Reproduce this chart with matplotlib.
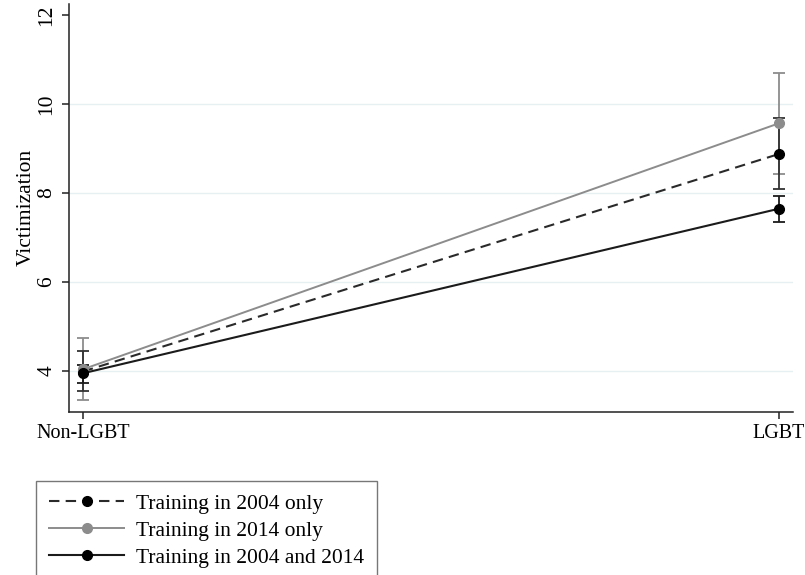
from matplotlib import pyplot as plt

groups = ['Non-LGBT', 'LGBT']
series_labels = ['Training in 2004 only', 'Training in 2014 only', 'Training in 2004 and 2014']

only_2004 = [3.98, 8.87]
only_2004_lo = [3.55, 8.09]
only_2004_hi = [4.45, 9.67]

only_2014 = [4.03, 9.56]
only_2014_lo = [3.34, 8.43]
only_2014_hi = [4.74, 10.70]

both_years = [3.94, 7.64]
both_years_lo = [3.73, 7.34]
both_years_hi = [4.13, 7.93]

plt.rcParams['font.family'] = ['Liberation Serif', 'DejaVu Serif']
plt.rcParams['font.size'] = 15.5

x = list(range(len(groups)))


def err(vals, lo, hi):
    return [[v - l for v, l in zip(vals, lo)], [h - v for v, h in zip(vals, hi)]]


fig = plt.figure(figsize=(8.05, 5.75), dpi=100)
ax = fig.add_axes([0.0857, 0.2835, 0.899, 0.71])

grid_color = '#e6f0f2'
for y in [4, 6, 8, 10]:
    ax.axhline(y, color=grid_color, linewidth=1, zorder=0)

gray = '#8c8c8c'
dark = '#1b1b1b'

ax.errorbar(x, only_2014, yerr=err(only_2014, only_2014_lo, only_2014_hi), fmt='none',
            ecolor=gray, elinewidth=1.3, capsize=4.5, capthick=1.3, zorder=2)
ax.errorbar(x, only_2004, yerr=err(only_2004, only_2004_lo, only_2004_hi), fmt='none',
            ecolor='#333333', elinewidth=1.3, capsize=4.5, capthick=1.3, zorder=3)
ax.errorbar(x, both_years, yerr=err(both_years, both_years_lo, both_years_hi), fmt='none',
            ecolor=dark, elinewidth=1.3, capsize=4.5, capthick=1.3, zorder=3)

h1, = ax.plot(x, only_2004, color='#2a2a2a', linestyle=(0, (5, 3)), linewidth=1.5,
              marker='o', markersize=7, markerfacecolor='black', markeredgecolor='black', zorder=4)
h2, = ax.plot(x, only_2014, color=gray, linewidth=1.4,
              marker='o', markersize=7, markerfacecolor=gray, markeredgecolor=gray, zorder=4)
h3, = ax.plot(x, both_years, color=dark, linewidth=1.5,
              marker='o', markersize=7, markerfacecolor='black', markeredgecolor='black', zorder=5)

ax.set_xlim(-0.02, 1.02)
ax.set_ylim(3.07, 12.25)
ax.set_xticks(x)
ax.set_xticklabels(groups, fontsize=14.5)
ax.set_yticks([4, 6, 8, 10, 12])
ax.set_yticklabels(['4', '6', '8', '10', '12'], rotation=90, va='center')
ax.set_ylabel('Victimization', labelpad=1)

for side in ['top', 'right']:
    ax.spines[side].set_visible(False)
for side in ['left', 'bottom']:
    ax.spines[side].set_color('#222222')
    ax.spines[side].set_linewidth(1.1)
ax.tick_params(direction='out', length=5, width=1.1, color='#222222', pad=4)

leg = fig.legend([h1, h2, h3], series_labels, loc='upper left',
                 bbox_to_anchor=(36 / 805, 1 - 481 / 575), borderaxespad=0,
                 frameon=True, fancybox=False, handlelength=3.5, handletextpad=0.55,
                 borderpad=0.6, labelspacing=0.32, fontsize=15.5)
leg.get_frame().set_edgecolor('#555555')
leg.get_frame().set_linewidth(1.0)

plt.savefig('out.png', dpi=100)
